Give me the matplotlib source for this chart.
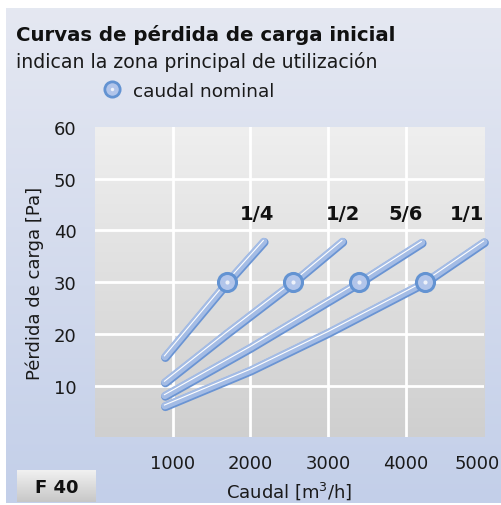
import numpy as np
import matplotlib
matplotlib.use("Agg")
from matplotlib import pyplot as plt
import matplotlib.patheffects as pe
from matplotlib.transforms import ScaledTranslation

# data
caudal_14 = [900, 1700, 2170]
perdida_14 = [15.6, 30, 37.9]
caudal_12 = [900, 1700, 2550, 3180]
perdida_12 = [10.7, 20.2, 30, 37.9]
caudal_56 = [900, 2000, 3400, 4200]
perdida_56 = [8.1, 17.4, 30, 37.7]
caudal_11 = [900, 2000, 3000, 4240, 5000]
perdida_11 = [6.1, 13.0, 20.3, 30, 37.8]
nominal_caudal = [1700, 2550, 3400, 4240]
nominal_perdida = [30, 30, 30, 30]
curve_labels = ["1/4", "1/2", "5/6", "1/1"]
label_x = [2080, 3190, 3990, 4780]
label_y = [43.2, 43.2, 43.2, 43.2]

W, H = 502, 506
fig = plt.figure(figsize=(W / 100, H / 100), dpi=100)
fig.patch.set_facecolor("white")

def px(x, y):
    return x / W, 1 - y / H

# blue backdrop panel
bg = fig.add_axes([6 / W, 2 / H, 1 - 6 / W, 495 / H])
grad = np.linspace(0, 1, 256).reshape(-1, 1)
top = np.array([0.898, 0.910, 0.949])
bot = np.array([0.765, 0.812, 0.914])
img = top + (bot - top) * grad[:, :, None]
bg.imshow(img, aspect="auto", extent=(0, 1, 0, 1))
bg.axis("off")

# main axes
ax = fig.add_axes([94.8 / W, 1 - 438.4 / H, (484 - 94.8) / W, (438.4 - 128) / H])
ax.set_xlim(0, 5000)
ax.set_ylim(0, 60)
gtop = np.array([0.937, 0.937, 0.937])
gbot = np.array([0.812, 0.812, 0.812])
gimg = gtop + (gbot - gtop) * grad[:, :, None]
ax.imshow(gimg, aspect="auto", extent=(0, 5000, 0, 60), zorder=0)
for s in ax.spines.values():
    s.set_visible(False)
for gx in [1000, 2000, 3000, 4000]:
    ax.axvline(gx, color="white", lw=2, zorder=1)
for gy in [10, 20, 30, 40, 50]:
    ax.axhline(gy, color="white", lw=2, zorder=1)

ax.set_xticks([1000, 2000, 3000, 4000, 5000])
ax.set_xticklabels(["1000", "2000", "3000", "4000", "5000"])
ax.set_yticks([10, 20, 30, 40, 50, 60])
ax.tick_params(length=0, labelsize=13, colors="#1a1a1a")
ax.tick_params(axis="x", pad=12)
ax.tick_params(axis="y", pad=13)
ax.set_xlabel("Caudal [m$^3$/h]", fontsize=13, color="#1a1a1a", labelpad=5)
ax.set_ylabel("Pérdida de carga [Pa]", fontsize=13, color="#1a1a1a", labelpad=7)
last = ax.get_xticklabels()[-1]
last.set_transform(last.get_transform() + ScaledTranslation(-0.07, 0, fig.dpi_scale_trans))

line_fx = [pe.Stroke(linewidth=6.2, foreground="#6A94D3", offset=(0.4, -0.7)), pe.Normal()]
for xs, ys in [(caudal_14, perdida_14), (caudal_12, perdida_12),
               (caudal_56, perdida_56), (caudal_11, perdida_11)]:
    ax.plot(xs, ys, color="#A4BCE5", lw=5.2, solid_capstyle="round",
            solid_joinstyle="round", path_effects=line_fx, zorder=3, clip_on=False)
    ax.plot(xs, ys, color="white", lw=0.8, alpha=0.9, zorder=4, clip_on=False,
            path_effects=[pe.Stroke(linewidth=0.8, foreground="white", offset=(-0.3, 0.6))])

ax.plot(nominal_caudal, nominal_perdida, ls="none", marker="o", ms=13,
        mfc="#B2C5EA", mec="#6393D2", mew=2.2, zorder=5)
ax.plot(nominal_caudal, nominal_perdida, ls="none", marker="o", ms=3,
        mfc="#EEF2FA", mec="none", zorder=6)

for lab, lx, ly in zip(curve_labels, label_x, label_y):
    ax.text(lx, ly, lab, ha="center", va="center", fontsize=14,
            fontweight="bold", color="#111111", clip_on=False)

# titles
fig.text(*px(16, 41), "Curvas de pérdida de carga inicial", fontsize=14.2,
         fontweight="bold", color="#111111", va="baseline")
fig.text(*px(16, 68), "indican la zona principal de utilización", fontsize=13.6,
         color="#1a1a1a", va="baseline")
fig.lines.append(plt.Line2D([112 / W], [1 - 90 / H], transform=fig.transFigure,
                            marker="o", ms=11, mfc="#B2C5EA", mec="#6393D2", mew=2))
fig.lines.append(plt.Line2D([112 / W], [1 - 90 / H], transform=fig.transFigure,
                            marker="o", ms=2.5, mfc="#EEF2FA", mec="none"))
fig.text(*px(133, 97), "caudal nominal", fontsize=13.3, color="#1a1a1a", va="baseline")

# F 40 badge
badge = fig.add_axes([17 / W, 1 - 503 / H, 79 / W, 32 / H])
btop = np.array([0.945, 0.945, 0.945])
bbot = np.array([0.780, 0.780, 0.780])
badge.imshow(btop + (bbot - btop) * grad[:, :, None], aspect="auto", extent=(0, 1, 0, 1))
badge.axis("off")
badge.text(0.5, 0.48, "F 40", ha="center", va="center", fontsize=13,
           fontweight="bold", color="#111111", transform=badge.transAxes)

fig.savefig("out.png", dpi=100)
